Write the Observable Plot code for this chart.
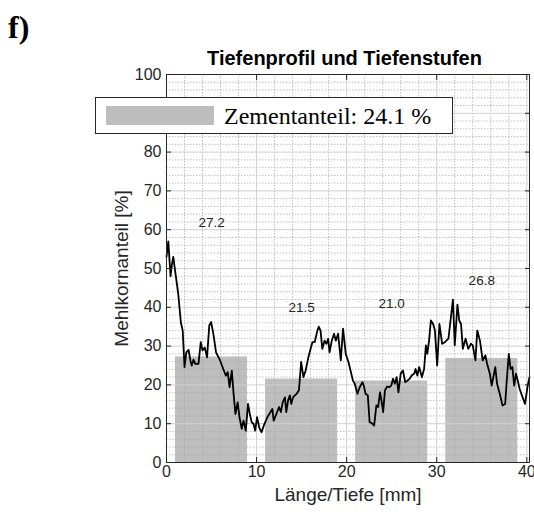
<!DOCTYPE html>
<html>
<head>
<meta charset="utf-8">
<script src="https://cdn.jsdelivr.net/npm/d3@7"></script>
<script src="https://cdn.jsdelivr.net/npm/@observablehq/plot@0.6"></script>
<style>
  html, body { margin: 0; padding: 0; background: #fff; }
  #wrap { position: relative; width: 534px; height: 516px; overflow: hidden; }
  #wrap svg { position: absolute; left: 0; top: 0; }
  .abs { position: absolute; white-space: nowrap; }
</style>
</head>
<body>
<div id="wrap">
  <div class="abs" id="panel" style="left:8px; top:11px; font: bold 32px/32px 'Liberation Serif', 'Times New Roman', serif; color:#000;">f)</div>
  <div class="abs" id="title" style="left:163px; width:363px; text-align:center; top:48px; font: bold 20px/20px 'Liberation Sans', Arial, sans-serif; color:#000;">Tiefenprofil und Tiefenstufen</div>
</div>
<script>
// ---- data ----
const profileX = [0.0,0.2,0.45,0.6,0.75,0.95,1.3,1.6,1.8,2.0,2.2,2.45,2.65,2.8,3.0,3.2,3.55,3.8,4.0,4.25,4.5,4.75,4.95,5.2,5.5,5.95,6.3,6.6,6.8,7.0,7.25,7.45,7.65,7.9,8.1,8.35,8.55,8.8,9.05,9.25,9.45,9.65,9.85,10.05,10.3,10.55,10.8,11.2,11.55,11.75,11.9,12.2,12.5,12.7,12.9,13.15,13.3,13.5,13.7,13.85,14.05,14.25,14.45,14.7,14.95,15.2,15.45,15.75,16.0,16.2,16.45,16.75,16.9,17.1,17.3,17.55,17.75,17.95,18.1,18.35,18.6,18.8,19.05,19.35,19.6,19.9,20.2,20.45,20.7,20.9,21.2,21.45,21.75,21.9,22.1,22.35,22.55,22.8,23.05,23.3,23.5,23.7,23.9,24.05,24.25,24.5,24.7,24.95,25.15,25.35,25.55,25.75,26.0,26.25,26.5,26.75,27.0,27.2,27.5,27.65,27.85,28.05,28.35,28.6,28.8,28.95,29.15,29.35,29.6,29.8,30.05,30.3,30.6,30.9,31.3,31.8,32.0,32.3,32.5,32.7,32.9,33.2,33.5,33.8,34.0,34.3,34.5,34.8,35.1,35.4,35.6,35.9,36.1,36.5,36.7,37.0,37.3,37.6,37.75,38.0,38.2,38.4,38.6,38.8,39.0,39.2,39.4,39.8,40.1,40.3];
const profileY = [53,57,48,51,53,49.5,43.5,36,34,24.6,28.4,29,26.3,25,26.5,25.4,25.4,31,28.9,29.6,27.1,35.3,36.2,33.2,28.4,26.3,24.1,22.4,23.3,19.4,23.7,17.7,12.5,15.5,11.7,8.7,10.8,8.2,15.1,12.5,10.4,10,8.2,11.7,9,7.8,9.5,11.7,13,13.8,10.8,12.5,14.3,13,15.5,16.8,13,16,17.3,15.1,16.8,17.3,17.7,18.6,25.9,22,23.7,27.1,29.3,31,31,34,35,34,29.3,31.4,30.6,31.9,28.4,31.4,33.2,31.4,33.2,26.3,34.5,28,25.9,23.5,21.1,20.3,17.7,19.4,20.7,19.8,17.7,17.3,10.4,10.1,9.5,14.7,14.3,18.1,15.5,13,18.6,19.6,19.4,19.8,21.6,20.3,22,18.1,22.9,23.7,20.7,21.1,21.6,22.4,22.9,24.1,22.4,24.6,22,24.1,30.2,28,31.4,36.6,35.7,34,25,35.7,30.6,31,31.9,42,30.2,40.7,36.6,35.7,29.3,31.9,29.3,30.6,30.2,26.3,34,31.4,26.3,27.6,25.4,22.9,19.8,24.6,20.3,17.7,14.7,15.1,20.3,28,24.1,24.6,19.8,22.9,21.1,19,17.7,15.1,19.8,22];

const stageStart = [1, 11, 21, 31];
const stageEnd = [9, 19, 29, 39];
const stageValue = [27.2, 21.5, 21.0, 26.8];
const stageLabelY = [61.7, 40, 41, 46.9];

const xTicks = [0, 10, 20, 30, 40];
const yTicks = [0, 10, 20, 30, 40, 50, 60, 70, 80, 90, 100];
const xMinor = [2,4,6,8,12,14,16,18,22,24,26,28,32,34,36,38];
const yMinor = [2,4,6,8,12,14,16,18,22,24,26,28,32,34,36,38,42,44,46,48,52,54,56,58,62,64,66,68,72,74,76,78,82,84,86,88,92,94,96,98];

const legendText = "Zementanteil: 24.1 %";
const xLabel = "Länge/Tiefe [mm]";
const yLabel = "Mehlkornanteil [%]";

// ---- tables ----
const profile = profileX.map((x, i) => ({x, y: profileY[i]}));
const stages = stageValue.map((v, i) => ({
  x1: stageStart[i], x2: stageEnd[i], v, ly: stageLabelY[i],
  xm: (stageStart[i] + stageEnd[i]) / 2
}));

const axisColor = "#262626";

const chart = Plot.plot({
  width: 534,
  height: 516,
  marginTop: 74,
  marginBottom: 54,
  marginLeft: 166,
  marginRight: 5,
  style: {fontFamily: "'Liberation Sans', Arial, sans-serif", color: axisColor, background: "transparent"},
  x: {domain: [0, 40.3]},
  y: {domain: [0, 100]},
  marks: [
    Plot.rectY(stages, {x1: "x1", x2: "x2", y: "v", fill: "#bebebe"}),
    Plot.gridX(xMinor, {stroke: "#a8a8a8", strokeOpacity: 0.9, strokeWidth: 0.8, strokeDasharray: "1.5,1.5"}),
    Plot.gridY(yMinor, {stroke: "#a8a8a8", strokeOpacity: 0.9, strokeWidth: 0.8, strokeDasharray: "1.5,1.5"}),
    Plot.gridX(xTicks, {stroke: "#d0d0d0", strokeOpacity: 1, strokeWidth: 1}),
    Plot.gridY(yTicks, {stroke: "#d0d0d0", strokeOpacity: 1, strokeWidth: 1}),
    Plot.line(profile, {x: "x", y: "y", stroke: "#000", strokeWidth: 1.8}),
    Plot.text(stages, {x: "xm", y: "ly", text: d => d.v.toFixed(1), fontSize: 13.5, fill: axisColor}),
    Plot.frame({stroke: axisColor, strokeWidth: 1}),
    Plot.axisX(xTicks, {anchor: "bottom", tickSize: -5, tickPadding: 8, fontSize: 16, label: null}),
    Plot.axisX(xTicks, {anchor: "top", tickSize: -5, tickFormat: () => "", label: null}),
    Plot.axisY(yTicks, {anchor: "left", tickSize: -5, tickPadding: 10, fontSize: 16, label: null}),
    Plot.axisY(yTicks, {anchor: "right", tickSize: -5, tickFormat: () => "", label: null}),
    Plot.text([xLabel], {frameAnchor: "bottom", dy: 38, fontSize: 19, fill: axisColor}),
    Plot.text([yLabel], {frameAnchor: "left", dx: -45, rotate: -90, textAnchor: "middle", fontSize: 19, fill: axisColor})
  ]
});

const wrap = document.getElementById("wrap");
wrap.insertBefore(chart, wrap.firstChild);

// legend (overlaps the axes, as in the reference)
const legend = document.createElement("div");
legend.className = "abs";
legend.style.cssText = "left:95px; top:97px; width:356px; height:35px; border:1px solid #262626; background:#fff;";
const swatch = document.createElement("div");
swatch.className = "abs";
swatch.style.cssText = "left:10px; top:8px; width:108px; height:19px; background:#bebebe;";
const ltext = document.createElement("div");
ltext.className = "abs";
ltext.style.cssText = "left:128px; top:6px; font: 24px/24px 'Liberation Serif', 'Times New Roman', serif; color:#000;";
ltext.textContent = legendText;
legend.appendChild(swatch);
legend.appendChild(ltext);
wrap.appendChild(legend);
</script>
</body>
</html>
